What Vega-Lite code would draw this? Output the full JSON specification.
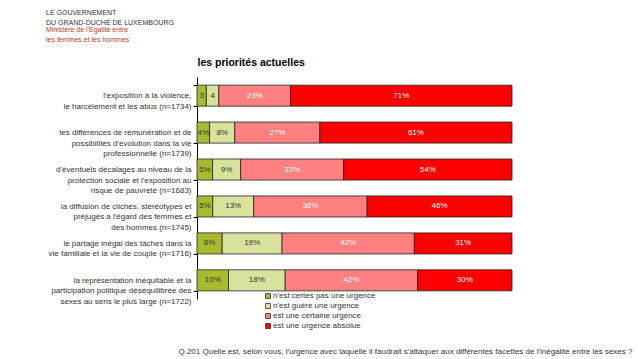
{
  "$schema": "https://vega.github.io/schema/vega-lite/v6.json",
  "autosize": "none",
  "width": 315,
  "height": 222,
  "padding": {"left": 197, "top": 77, "right": 126, "bottom": 60},
  "config": {"font": "Liberation Sans", "view": {"stroke": null}},
  "title": {
    "text": ["LE GOUVERNEMENT", "DU GRAND-DUCHÉ DE LUXEMBOURG"],
    "subtitle": ["Ministère de l'Égalité entre", "les femmes et les hommes"],
    "anchor": "start",
    "frame": "group",
    "dx": -151,
    "offset": 14,
    "fontSize": 7,
    "fontWeight": "normal",
    "color": "#333333",
    "lineHeight": 10,
    "subtitleFontSize": 7,
    "subtitleColor": "#c0392b",
    "subtitleLineHeight": 10,
    "subtitlePadding": 0
  },
  "data": {
    "values": [
      {"item": "l'exposition à la violence,|le harcèlement et les abus (n=1734)", "cat": "n'est certes pas une urgence", "order": 1, "value": 3, "label": "3"},
      {"item": "l'exposition à la violence,|le harcèlement et les abus (n=1734)", "cat": "n'est guère une urgence", "order": 2, "value": 4, "label": "4"},
      {"item": "l'exposition à la violence,|le harcèlement et les abus (n=1734)", "cat": "est une certaine urgence", "order": 3, "value": 23, "label": "23%"},
      {"item": "l'exposition à la violence,|le harcèlement et les abus (n=1734)", "cat": "est une urgence absolue", "order": 4, "value": 71, "label": "71%"},
      {"item": "les différences de rémunération et de|possibilités d'évolution dans la vie|professionnelle (n=1739)", "cat": "n'est certes pas une urgence", "order": 1, "value": 4, "label": "4%"},
      {"item": "les différences de rémunération et de|possibilités d'évolution dans la vie|professionnelle (n=1739)", "cat": "n'est guère une urgence", "order": 2, "value": 8, "label": "8%"},
      {"item": "les différences de rémunération et de|possibilités d'évolution dans la vie|professionnelle (n=1739)", "cat": "est une certaine urgence", "order": 3, "value": 27, "label": "27%"},
      {"item": "les différences de rémunération et de|possibilités d'évolution dans la vie|professionnelle (n=1739)", "cat": "est une urgence absolue", "order": 4, "value": 61, "label": "61%"},
      {"item": "d'éventuels décalages au niveau de la|protection sociale et l'exposition au|risque de pauvreté (n=1683)", "cat": "n'est certes pas une urgence", "order": 1, "value": 5, "label": "5%"},
      {"item": "d'éventuels décalages au niveau de la|protection sociale et l'exposition au|risque de pauvreté (n=1683)", "cat": "n'est guère une urgence", "order": 2, "value": 9, "label": "9%"},
      {"item": "d'éventuels décalages au niveau de la|protection sociale et l'exposition au|risque de pauvreté (n=1683)", "cat": "est une certaine urgence", "order": 3, "value": 33, "label": "33%"},
      {"item": "d'éventuels décalages au niveau de la|protection sociale et l'exposition au|risque de pauvreté (n=1683)", "cat": "est une urgence absolue", "order": 4, "value": 54, "label": "54%"},
      {"item": "la diffusion de clichés, stéréotypes et|préjugés à l'égard des femmes et|des hommes (n=1745)", "cat": "n'est certes pas une urgence", "order": 1, "value": 5, "label": "5%"},
      {"item": "la diffusion de clichés, stéréotypes et|préjugés à l'égard des femmes et|des hommes (n=1745)", "cat": "n'est guère une urgence", "order": 2, "value": 13, "label": "13%"},
      {"item": "la diffusion de clichés, stéréotypes et|préjugés à l'égard des femmes et|des hommes (n=1745)", "cat": "est une certaine urgence", "order": 3, "value": 36, "label": "36%"},
      {"item": "la diffusion de clichés, stéréotypes et|préjugés à l'égard des femmes et|des hommes (n=1745)", "cat": "est une urgence absolue", "order": 4, "value": 46, "label": "46%"},
      {"item": "le partage inégal des tâches dans la|vie familiale et la vie de couple (n=1716)", "cat": "n'est certes pas une urgence", "order": 1, "value": 8, "label": "8%"},
      {"item": "le partage inégal des tâches dans la|vie familiale et la vie de couple (n=1716)", "cat": "n'est guère une urgence", "order": 2, "value": 19, "label": "19%"},
      {"item": "le partage inégal des tâches dans la|vie familiale et la vie de couple (n=1716)", "cat": "est une certaine urgence", "order": 3, "value": 42, "label": "42%"},
      {"item": "le partage inégal des tâches dans la|vie familiale et la vie de couple (n=1716)", "cat": "est une urgence absolue", "order": 4, "value": 31, "label": "31%"},
      {"item": "la représentation inéquitable et la|participation politique déséquilibrée des|sexes au sens le plus large (n=1722)", "cat": "n'est certes pas une urgence", "order": 1, "value": 10, "label": "10%"},
      {"item": "la représentation inéquitable et la|participation politique déséquilibrée des|sexes au sens le plus large (n=1722)", "cat": "n'est guère une urgence", "order": 2, "value": 18, "label": "18%"},
      {"item": "la représentation inéquitable et la|participation politique déséquilibrée des|sexes au sens le plus large (n=1722)", "cat": "est une certaine urgence", "order": 3, "value": 42, "label": "42%"},
      {"item": "la représentation inéquitable et la|participation politique déséquilibrée des|sexes au sens le plus large (n=1722)", "cat": "est une urgence absolue", "order": 4, "value": 30, "label": "30%"}
    ]
  },
  "transform": [
    {"stack": "value", "groupby": ["item"], "sort": [{"field": "order", "order": "ascending"}], "offset": "normalize", "as": ["v0", "v1"]},
    {"calculate": "(datum.v0 + datum.v1) / 2", "as": "mid"}
  ],
  "encoding": {
    "y": {
      "field": "item",
      "type": "nominal",
      "sort": null,
      "scale": {"paddingInner": 0.43, "paddingOuter": 0.22},
      "axis": {
        "title": null,
        "labelExpr": "split(datum.label, '|')",
        "labelFontSize": 8,
        "labelColor": "#333333",
        "labelLineHeight": 10.5,
        "labelPadding": 2,
        "labelLimit": 0,
        "labelAlign": "right",
        "labelBaseline": "middle",
        "tickBand": "extent",
        "tickSize": 4,
        "tickColor": "#000000",
        "domainColor": "#000000",
        "grid": false
      }
    }
  },
  "layer": [
    {
      "mark": {"type": "bar", "stroke": "#222222", "strokeWidth": 0.8},
      "encoding": {
        "x": {
          "field": "v0",
          "type": "quantitative",
          "scale": {"domain": [0, 1], "nice": false},
          "axis": {
            "orient": "top",
            "domain": false,
            "ticks": false,
            "labels": false,
            "grid": false,
            "title": "les priorités actuelles",
            "titleFontSize": 10.5,
            "titleFontWeight": "bold",
            "titleColor": "#000000",
            "titleX": 0,
            "titleY": -15,
            "titleAlign": "left",
            "titleBaseline": "middle"
          }
        },
        "x2": {"field": "v1"},
        "color": {
          "field": "cat",
          "type": "nominal",
          "sort": ["n'est certes pas une urgence", "n'est guère une urgence", "est une certaine urgence", "est une urgence absolue"],
          "scale": {
            "domain": ["n'est certes pas une urgence", "n'est guère une urgence", "est une certaine urgence", "est une urgence absolue"],
            "range": ["#a9ba2f", "#d8e29d", "#ff8080", "#ff0000"]
          },
          "legend": {
            "title": null,
            "orient": "none",
            "legendX": 67,
            "legendY": 215,
            "direction": "vertical",
            "symbolType": "square",
            "symbolSize": 25,
            "symbolStrokeColor": "#333333",
            "symbolStrokeWidth": 0.8,
            "labelFontSize": 8,
            "labelColor": "#333333",
            "labelOffset": 1,
            "rowPadding": 0
          }
        }
      }
    },
    {
      "mark": {"type": "text", "fontSize": 8, "align": "center", "baseline": "middle"},
      "encoding": {
        "x": {
          "field": "mid",
          "type": "quantitative",
          "scale": {"domain": [0, 1], "nice": false},
          "axis": {
            "orient": "bottom",
            "domain": false,
            "ticks": false,
            "labels": false,
            "grid": false,
            "title": "Q.201  Quelle est, selon vous, l'urgence avec laquelle il faudrait s'attaquer aux différentes facettes de l'inégalité entre les sexes ?",
            "titleFontSize": 8,
            "titleFontWeight": "normal",
            "titleColor": "#333333",
            "titleX": 435,
            "titleY": 54,
            "titleAlign": "right",
            "titleBaseline": "alphabetic"
          }
        },
        "text": {"field": "label"},
        "color": {
          "condition": {"test": "datum.order >= 3", "value": "#ffffff"},
          "value": "#333333"
        }
      }
    }
  ],
  "resolve": {"axis": {"x": "independent"}}
}
